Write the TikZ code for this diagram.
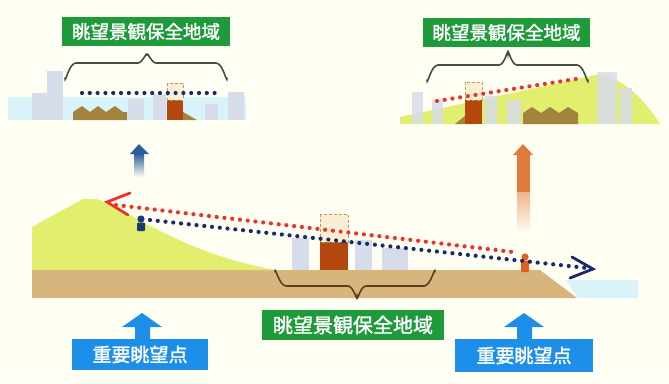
\documentclass[tikz,border=0pt]{standalone}
\usepackage{fontspec}
\newfontfamily\jp{Noto Sans CJK JP}[AutoFakeBold=1.5]
\begin{document}
\definecolor{bgcream}{HTML}{FFFEF2}
\definecolor{zonegreen}{HTML}{1F9A3A}
\definecolor{viewblue}{HTML}{1E8FE8}
\definecolor{hillgreen}{HTML}{E1EE6E}
\definecolor{earth}{HTML}{D7B57D}
\definecolor{skyband}{HTML}{D9F3FA}
\definecolor{bldgray}{HTML}{D6DCEA}
\definecolor{bldred}{HTML}{B3470E}
\definecolor{capfill}{HTML}{FBEFD3}
\definecolor{capline}{HTML}{C09868}
\definecolor{treebrown}{HTML}{A2843E}
\definecolor{sightnavy}{HTML}{1B2A6B}
\definecolor{sightred}{HTML}{F0302A}
\definecolor{bracegray}{HTML}{4A4A4A}
\definecolor{bracebrown}{HTML}{5A4020}
\definecolor{upnavy}{HTML}{2B5C9E}
\definecolor{uporange}{HTML}{E07A3A}
\definecolor{personnavy}{HTML}{1A3A7A}
\definecolor{personorange}{HTML}{E0601E}
\begin{tikzpicture}[x=1pt,y=-1pt,
  zonelabel/.style={fill=zonegreen, text=white, inner sep=0pt,
    font=\jp\bfseries\fontsize{18.5}{18.5}\selectfont},
  viewlabel/.style={fill=viewblue, text=white, inner sep=0pt,
    font=\jp\bfseries\fontsize{19}{19}\selectfont},
  sight/.style={line width=4.2pt, line cap=round, dash pattern=on 0pt off 7.8pt},
  chevron/.style={line width=2.8pt, line cap=round, line join=miter},
  bld/.style={fill=bldgray},
  capbox/.style={fill=capfill, draw=capline, line width=1pt, dash pattern=on 3pt off 2pt},
  bracket/.style={line width=1.6pt, line cap=round}]
\fill[bgcream] (0,0) rectangle (669,383);
\useasboundingbox (0,0) rectangle (669,383);

% ---------- upper left: view from the hill ----------
\fill[skyband] (8,97) rectangle (246,120);
\fill[bld] (32,93) rectangle (47,120);
\fill[bld] (47,71) rectangle (63,120);
\fill[bld] (128,99) rectangle (144,120);
\fill[bld] (153,94) rectangle (166,120);
\fill[bld] (205,104) rectangle (218,120);
\fill[bld] (228,92) rectangle (244,120);
\fill[treebrown] (73,120) -- (73,112) -- (82,106) -- (90,112) -- (98,106) -- (106,112)
  -- (115,106) -- (123,112) -- (127,112) -- (127,120) -- cycle;
\fill[treebrown] (183,112) -- (197,120) -- (183,120) -- cycle;
\fill[bldred] (167,100) rectangle (183,120);
\draw[capbox] (167,83) rectangle (183,100);
\coordinate (tlA) at (82,93);
\coordinate (tlB) at (218,93);
\draw[sight, sightnavy] (tlA) -- (tlB);
\draw[bracket, bracegray] (65,78) to[out=-90,in=180] (76,63) -- (138,63)
  to[out=0,in=90] (147,55) to[out=90,in=180] (156,63) -- (216,63)
  to[out=0,in=-90] (227,78);
\node[zonelabel, minimum width=168pt, minimum height=29pt] (zoneTL) at (146,31.5) {眺望景観保全地域};

% ---------- upper right: view from the waterside ----------
\fill[hillgreen] (400,124) -- (400,117) -- (600,74) .. controls (625,80) and (645,100) .. (660,124) -- cycle;
\fill[bld, opacity=0.85] (412,92) rectangle (423,124);
\fill[bld, opacity=0.85] (432,100) rectangle (443,124);
\fill[bld, opacity=0.85] (485,96) rectangle (497,124);
\fill[bld, opacity=0.85] (507,100) rectangle (521,124);
\fill[bld, opacity=0.85] (597,72) rectangle (617,124);
\fill[bld, opacity=0.85] (620,88) rectangle (632,124);
\fill[treebrown] (523,124) -- (523,113) -- (532,107) -- (541,113) -- (550,107) -- (559,113)
  -- (568,107) -- (578,113) -- (578,124) -- cycle;
\fill[treebrown] (455,124) -- (465,116) -- (465,124) -- cycle;
\fill[bldred] (465,100) rectangle (482,124);
\draw[capbox] (465,82) rectangle (482,100);
\coordinate (trA) at (437,101);
\coordinate (trB) at (582,78);
\draw[sight, sightred] (trA) -- (trB);
\draw[bracket, bracegray] (427,80) to[out=-90,in=180] (438,65) -- (499,65)
  to[out=0,in=90] (508,53) to[out=90,in=180] (517,65) -- (577,65)
  to[out=0,in=-90] (588,80);
\node[zonelabel, minimum width=167pt, minimum height=29pt] (zoneTR) at (506.5,32.5) {眺望景観保全地域};

% ---------- rising arrows between the panels ----------
\fill[upnavy] (139,144) -- (149,154) -- (130,154) -- cycle;
\shade[top color=upnavy, bottom color=bgcream] (134,153.5) rectangle (144,177);
\fill[uporange] (523,144) -- (533,155) -- (513,155) -- cycle;
\fill[uporange] (517,154.5) rectangle (530,192);
\shade[top color=uporange!55!bgcream, bottom color=bgcream] (517,192) rectangle (530,233);

% ---------- main cross section ----------
\fill[earth] (32,270) -- (540,270) -- (577,298) -- (32,298) -- cycle;
\fill[skyband] (566,280) -- (638,280) -- (638,298) -- (578,298) -- cycle;
\fill[hillgreen] (32,270) -- (32,227) -- (83,199) -- (97,199)
  .. controls (140,216) and (180,252) .. (275,270) -- cycle;
\fill[bld] (292,238) rectangle (309,270);
\fill[bld] (355,240) rectangle (372,270);
\fill[bld] (382,248) rectangle (408,270);
\fill[bldred] (320,242) rectangle (348,270);
\draw[capbox] (320,214) rectangle (348,242);
\draw[bracket, bracebrown] (275,272) to[out=90,in=180] (286,286) -- (348,286)
  to[out=0,in=-90] (357,297) to[out=-90,in=180] (366,286) -- (424,286)
  to[out=0,in=90] (435,272);

% viewers
\fill[personnavy] (141,219) circle (3.6);
\fill[personnavy, rounded corners=1pt] (137,222.5) rectangle (145,231);
\fill[personorange] (525,257) circle (3.6);
\fill[personorange, rounded corners=1pt] (521,260.5) rectangle (529,272);

% sight lines
\coordinate (redStart) at (116,205);
\coordinate (redEnd) at (513,252);
\coordinate (navyStart) at (150,220);
\coordinate (navyEnd) at (587,268);
\draw[sight, sightred] (redStart) -- (redEnd);
\draw[sight, sightnavy] (navyStart) -- (navyEnd);
\draw[chevron, sightred] (130,193) -- (107,202) -- (128,215);
\draw[chevron, sightnavy] (572,257) -- (593,269) -- (570,278);

% ---------- labels below ----------
\node[zonelabel, minimum width=182pt, minimum height=30pt,
  font=\jp\bfseries\fontsize{20}{20}\selectfont] (zoneMain) at (353,325) {眺望景観保全地域};
\node[viewlabel, minimum width=136pt, minimum height=31pt] (viewL) at (140,354.5) {重要眺望点};
\node[viewlabel, minimum width=138pt, minimum height=33pt] (viewR) at (524,355.5) {重要眺望点};
\fill[viewblue] (142,313) -- (162,327) -- (150,327) -- (150,340) -- (135,340) -- (135,327) -- (122,327) -- cycle;
\fill[viewblue] (524,313) -- (544,327) -- (532,327) -- (532,340) -- (517,340) -- (517,327) -- (504,327) -- cycle;
\end{tikzpicture}
\end{document}
